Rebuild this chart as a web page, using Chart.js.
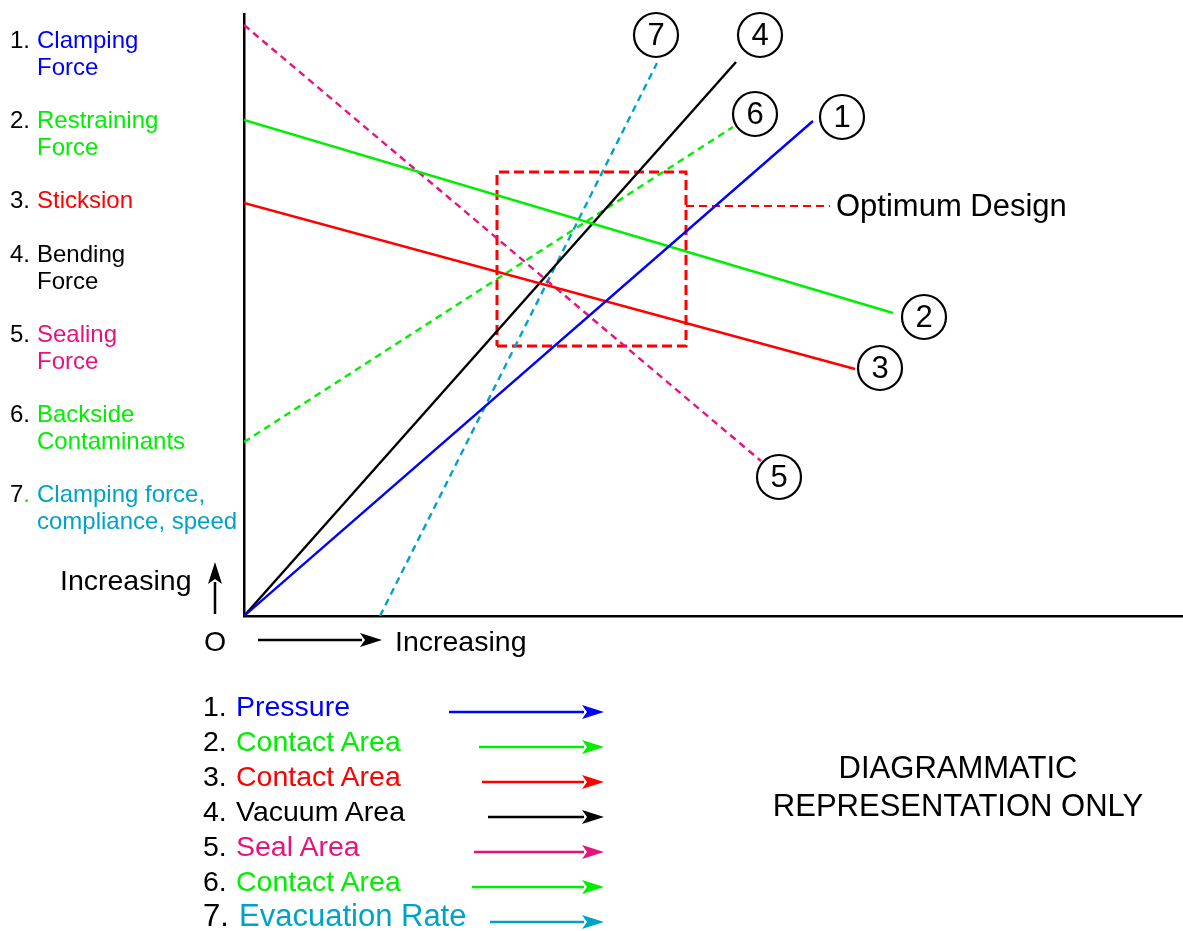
<!DOCTYPE html>
<html>
<head>
<meta charset="utf-8">
<script src="https://cdn.jsdelivr.net/npm/chart.js@4"></script>
<style>
  body { margin: 0; background: #fff; }
  #wrap { position: relative; width: 1183px; height: 931px; font-family: "Liberation Sans", Arial, sans-serif; color: #000; }
  #wrap canvas { position: absolute; left: 0; top: 0; }
  .t { position: absolute; white-space: nowrap; }
  .side { font-size: 24px; line-height: 27px; }
  .leg { font-size: 28.5px; line-height: 34px; }
  svg { position: absolute; left: 0; top: 0; pointer-events: none; }
</style>
</head>
<body>
<div id="wrap">
  <canvas id="diagram" width="1183" height="931"></canvas>
  <svg id="arrows" width="1183" height="931"></svg>
</div>
<script>
// Series: each line runs from a start point to an end point (arbitrary units, no ticks shown)
const seriesNames = ['Clamping Force', 'Restraining Force', 'Sticksion', 'Bending Force',
                     'Sealing Force', 'Backside Contaminants', 'Clamping force, compliance, speed'];
const seriesColors = ['#0000ff', '#00ee00', '#ff0000', '#000000', '#e8127f', '#00ee00', '#00a3c8'];
const seriesDashed = [false, false, false, false, true, true, true];
const xStart = [0, 0, 0, 0, 0, 0, 136];
const yStart = [0, 496, 413, 0, 591, 174, 0];
const xEnd = [569, 649, 611, 492, 517, 489, 413];
const yEnd = [495, 303, 247, 554, 155, 489, 553];

// Where the circled number sits relative to the line's end (pixels)
const labelDx = [29, 31, 25, 24, 18, 22, -1];
const labelDy = [-4, 4, -1, -27, 16, -13, -28];

// "Optimum Design" window
const optX = [253, 442];
const optY = [270, 444];
const optLeaderY = 410;
const optLeaderEnd = 586;

// Axis ranges
const xMax = 939;
const yMax = 602;

// Side labels (y axis) and bottom legend (x axis)
const sideLabels = [['Clamping', 'Force'], ['Restraining', 'Force'], ['Sticksion'], ['Bending', 'Force'],
                    ['Sealing', 'Force'], ['Backside', 'Contaminants'], ['Clamping force,', 'compliance, speed']];
const sideTops = [39, 119, 199, 253, 333, 413, 493];
const legendLabels = ['Pressure', 'Contact Area', 'Contact Area', 'Vacuum Area', 'Seal Area', 'Contact Area', 'Evacuation Rate'];
const legendRows = [706, 741, 776, 811, 846, 881, 916];
const legendArrowFrom = [449, 479, 482, 488, 474, 472, 490];

const wrap = document.getElementById('wrap');
function addText(html, cls, left, centerY, lh, extra) {
    const d = document.createElement('div');
    d.className = 't ' + cls;
    d.style.left = left + 'px';
    d.style.top = (centerY - lh / 2) + 'px';
    if (extra) d.style.cssText += extra;
    d.innerHTML = html;
    wrap.appendChild(d);
    return d;
}

// Side labels
sideLabels.forEach((lines, i) => {
    const num = i === 6 ? '7<span style="color:#00ee00">.</span>' : (i + 1) + '.';
    addText(num, 'side', 10, sideTops[i], 27);
    addText(lines.join('<br>'), 'side', 37, sideTops[i], 27, 'color:' + seriesColors[i]);
});

// Bottom legend
legendLabels.forEach((txt, i) => {
    const big = i === 6;
    const extra = big ? 'font-size:31px;' : '';
    addText((i + 1) + '.', 'leg', 203, legendRows[i], 34, extra);
    addText(txt, 'leg', big ? 239 : 236, legendRows[i], 34, extra + 'color:' + seriesColors[i]);
});

addText('Increasing', 'leg', 60, 580, 34);
addText('O', 'leg', 204, 641, 34);
addText('Increasing', 'leg', 395, 641, 34);
addText('Optimum Design', 'leg', 836, 206, 34, 'font-size:31px;');
addText('DIAGRAMMATIC<br>REPRESENTATION ONLY', 'leg', 958, 787, 76,
        'font-size:31px;line-height:38px;text-align:center;transform:translateX(-50%);');

// Arrows
const svg = document.getElementById('arrows');
function arrow(x1, y1, x2, y2, color, w) {
    const ang = Math.atan2(y2 - y1, x2 - x1);
    const len = 22, half = 7;
    const bx = x2 - len * Math.cos(ang), by = y2 - len * Math.sin(ang);
    const px = -Math.sin(ang) * half, py = Math.cos(ang) * half;
    svg.insertAdjacentHTML('beforeend',
        `<line x1="${x1}" y1="${y1}" x2="${bx + 2 * Math.cos(ang)}" y2="${by + 2 * Math.sin(ang)}" stroke="${color}" stroke-width="${w}"/>` +
        `<polygon points="${x2},${y2} ${bx + px},${by + py} ${bx + 5 * Math.cos(ang)},${by + 5 * Math.sin(ang)} ${bx - px},${by - py}" fill="${color}"/>`);
}
legendRows.forEach((y, i) => arrow(legendArrowFrom[i], y + 6, 604, y + 6, seriesColors[i], 2.5));
arrow(215, 614, 215, 562, '#000', 2.5);
arrow(258, 640, 382, 640, '#000', 2.5);

// Datasets
const datasets = seriesNames.map((name, i) => ({
    label: name,
    data: [{ x: xStart[i], y: yStart[i] }, { x: xEnd[i], y: yEnd[i] }],
    borderColor: seriesColors[i],
    borderWidth: 2.4,
    borderDash: seriesDashed[i] ? [7, 5] : [],
    pointRadius: 0,
    showLine: true,
    fill: false
}));
datasets.push({
    label: 'Optimum Design',
    data: [{ x: optX[0], y: optY[0] }, { x: optX[1], y: optY[0] }, { x: optX[1], y: optY[1] },
           { x: optX[0], y: optY[1] }, { x: optX[0], y: optY[0] }],
    borderColor: '#ff0000', borderWidth: 3, borderDash: [10, 5],
    pointRadius: 0, showLine: true, fill: false
});
datasets.push({
    label: 'Optimum leader',
    data: [{ x: optX[1], y: optLeaderY }, { x: optLeaderEnd, y: optLeaderY }],
    borderColor: '#ff0000', borderWidth: 2, borderDash: [8, 5],
    pointRadius: 0, showLine: true, fill: false
});

// Circled number at the end of each numbered line
const circledNumbers = {
    id: 'circledNumbers',
    afterDatasetsDraw(chart) {
        const ctx = chart.ctx;
        ctx.save();
        seriesNames.forEach((name, i) => {
            const pt = chart.getDatasetMeta(i).data[1];
            const cx = pt.x + labelDx[i], cy = pt.y + labelDy[i];
            ctx.beginPath();
            ctx.arc(cx, cy, 22, 0, Math.PI * 2);
            ctx.fillStyle = '#fff';
            ctx.fill();
            ctx.lineWidth = 2.2;
            ctx.strokeStyle = '#000';
            ctx.setLineDash([]);
            ctx.stroke();
            ctx.fillStyle = '#000';
            ctx.font = '31px "Liberation Sans", Arial, sans-serif';
            ctx.textAlign = 'center';
            ctx.textBaseline = 'middle';
            ctx.fillText(String(i + 1), cx, cy + 1);
        });
        ctx.restore();
    }
};

new Chart(document.getElementById('diagram').getContext('2d'), {
    type: 'scatter',
    data: { datasets: datasets },
    options: {
        responsive: false,
        animation: false,
        layout: { padding: { left: 236, top: 14, right: 0, bottom: 307 } },
        plugins: { legend: { display: false }, tooltip: { enabled: false } },
        scales: {
            x: {
                type: 'linear', min: 0, max: xMax,
                grid: { display: false },
                border: { display: true, color: '#000', width: 2.5 },
                ticks: { display: false }
            },
            y: {
                type: 'linear', min: 0, max: yMax,
                grid: { display: false },
                border: { display: true, color: '#000', width: 2.5 },
                ticks: { display: false }
            }
        }
    },
    plugins: [circledNumbers]
});
</script>
</body>
</html>
